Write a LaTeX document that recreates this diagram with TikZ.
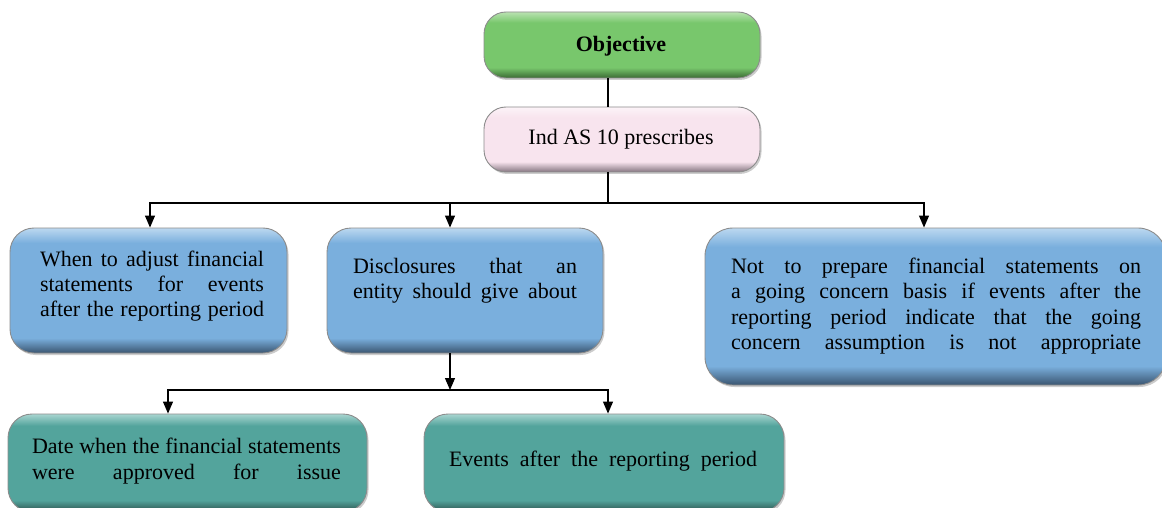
\documentclass[tikz,border=0pt]{standalone}
\usepackage{fontspec}
\setmainfont{Liberation Serif}
\usetikzlibrary{arrows.meta,shadows}
\definecolor{gmain}{HTML}{78C76C}\definecolor{glight}{HTML}{B9E2B1}\definecolor{gdark}{HTML}{3A6A33}
\definecolor{pmain}{HTML}{F8E4EE}\definecolor{plight}{HTML}{FCF3F8}\definecolor{pdark}{HTML}{857580}
\definecolor{bmain}{HTML}{7AAFDD}\definecolor{blight}{HTML}{BCD8F0}\definecolor{bdark}{HTML}{3A5570}
\definecolor{tmain}{HTML}{53A49C}\definecolor{tlight}{HTML}{A8D5D0}\definecolor{tdark}{HTML}{2B4F4B}
\pgfdeclareverticalshading{gbev}{100bp}{color(0bp)=(gdark); color(25bp)=(gdark); color(33bp)=(gmain); color(67bp)=(gmain); color(75bp)=(glight); color(100bp)=(glight)}
\pgfdeclareverticalshading{pbev}{100bp}{color(0bp)=(pdark); color(25bp)=(pdark); color(33bp)=(pmain); color(67bp)=(pmain); color(75bp)=(plight); color(100bp)=(plight)}
\pgfdeclareverticalshading{bbev}{100bp}{color(0bp)=(bdark); color(25bp)=(bdark); color(31bp)=(bmain); color(69bp)=(bmain); color(75bp)=(blight); color(100bp)=(blight)}
\pgfdeclareverticalshading{tbev}{100bp}{color(0bp)=(tdark); color(25bp)=(tdark); color(31bp)=(tmain); color(69bp)=(tmain); color(75bp)=(tlight); color(100bp)=(tlight)}
\tikzset{
  bx/.style={draw=black!45, line width=0.9pt, rounded corners=24pt, inner sep=0pt, shade,
    drop shadow={shadow xshift=1.5pt, shadow yshift=-2pt, opacity=0.4}},
  gbox/.style={bx, shading=gbev, rounded corners=22pt},
  pbox/.style={bx, shading=pbev, rounded corners=22pt},
  bbox/.style={bx, shading=bbev},
  tbox/.style={bx, shading=tbev},
  txt/.style={font=\fontsize{22}{25.3}\selectfont, inner sep=0pt, align=center, text=black},
  ln/.style={line width=1.2pt, draw=black},
  arr/.style={ln, -{Triangle[length=12pt,width=10pt]}}
}
\newcommand\jl[2]{\makebox[#1][s]{#2}}
\begin{document}
\begin{tikzpicture}[x=1pt,y=1pt]
\useasboundingbox (0,0) rectangle (1162,507);
% boxes
\node[gbox, minimum width=276pt, minimum height=66pt] (obj) at (622,462) {};
\node[pbox, minimum width=276pt, minimum height=65pt] (ind) at (622,367.5) {};
\node[bbox, minimum width=277pt, minimum height=125pt] (b1) at (148.5,216.5) {};
\node[bbox, minimum width=276pt, minimum height=125pt] (b2) at (465,216.5) {};
\node[bbox, minimum width=461pt, minimum height=157pt, rounded corners=28pt] (b3) at (935.5,200.5) {};
\node[tbox, minimum width=359pt, minimum height=98pt] (b4) at (187.5,44) {};
\node[tbox, minimum width=360pt, minimum height=98pt] (b5) at (604,44) {};
% texts
\node[txt, font=\fontsize{22}{25.3}\selectfont\bfseries] (tobj) at (621,461) {Objective};
\node[txt] (tind) at (621,368) {Ind AS 10 prescribes};
\node[txt] (t1) at (152,221) {\jl{224pt}{When to adjust financial}\\\jl{224pt}{statements for events}\\\jl{224pt}{after the reporting period}};
\node[txt] (t2) at (465,226.5) {\jl{224pt}{Disclosures that an}\\\jl{224pt}{entity should give about}};
\node[txt] (t3) at (936,201) {\jl{410pt}{Not to prepare financial statements on}\\\jl{410pt}{a going concern basis if events after the}\\\jl{410pt}{reporting period indicate that the going}\\\jl{410pt}{concern assumption is not appropriate}};
\node[txt] (t4) at (186.5,46) {\jl{309pt}{Date when the financial statements}\\\jl{309pt}{were approved for issue}};
\node[txt] (t5) at (603,46) {\jl{308pt}{Events after the reporting period}};
% connector coordinates
\coordinate (j0) at (608,304);
\coordinate (jl) at (150,304);
\coordinate (jm) at (450,304);
\coordinate (jr) at (924,304);
\coordinate (k0) at (450,117);
\coordinate (kl) at (168,117);
\coordinate (kr) at (608,117);
% connectors
\draw[ln] (obj.south -| j0) -- (ind.north -| j0);
\draw[ln] (ind.south -| j0) -- (j0);
\draw[arr] (j0) -| (b1.north -| jl);
\draw[arr] (j0) -| (b3.north -| jr);
\draw[arr] (jm) -- (b2.north -| jm);
\draw[arr] (b2.south -| k0) -- (k0);
\draw[arr] (k0) -| (b4.north -| kl);
\draw[arr] (k0) -| (b5.north -| kr);
\end{tikzpicture}
\end{document}
